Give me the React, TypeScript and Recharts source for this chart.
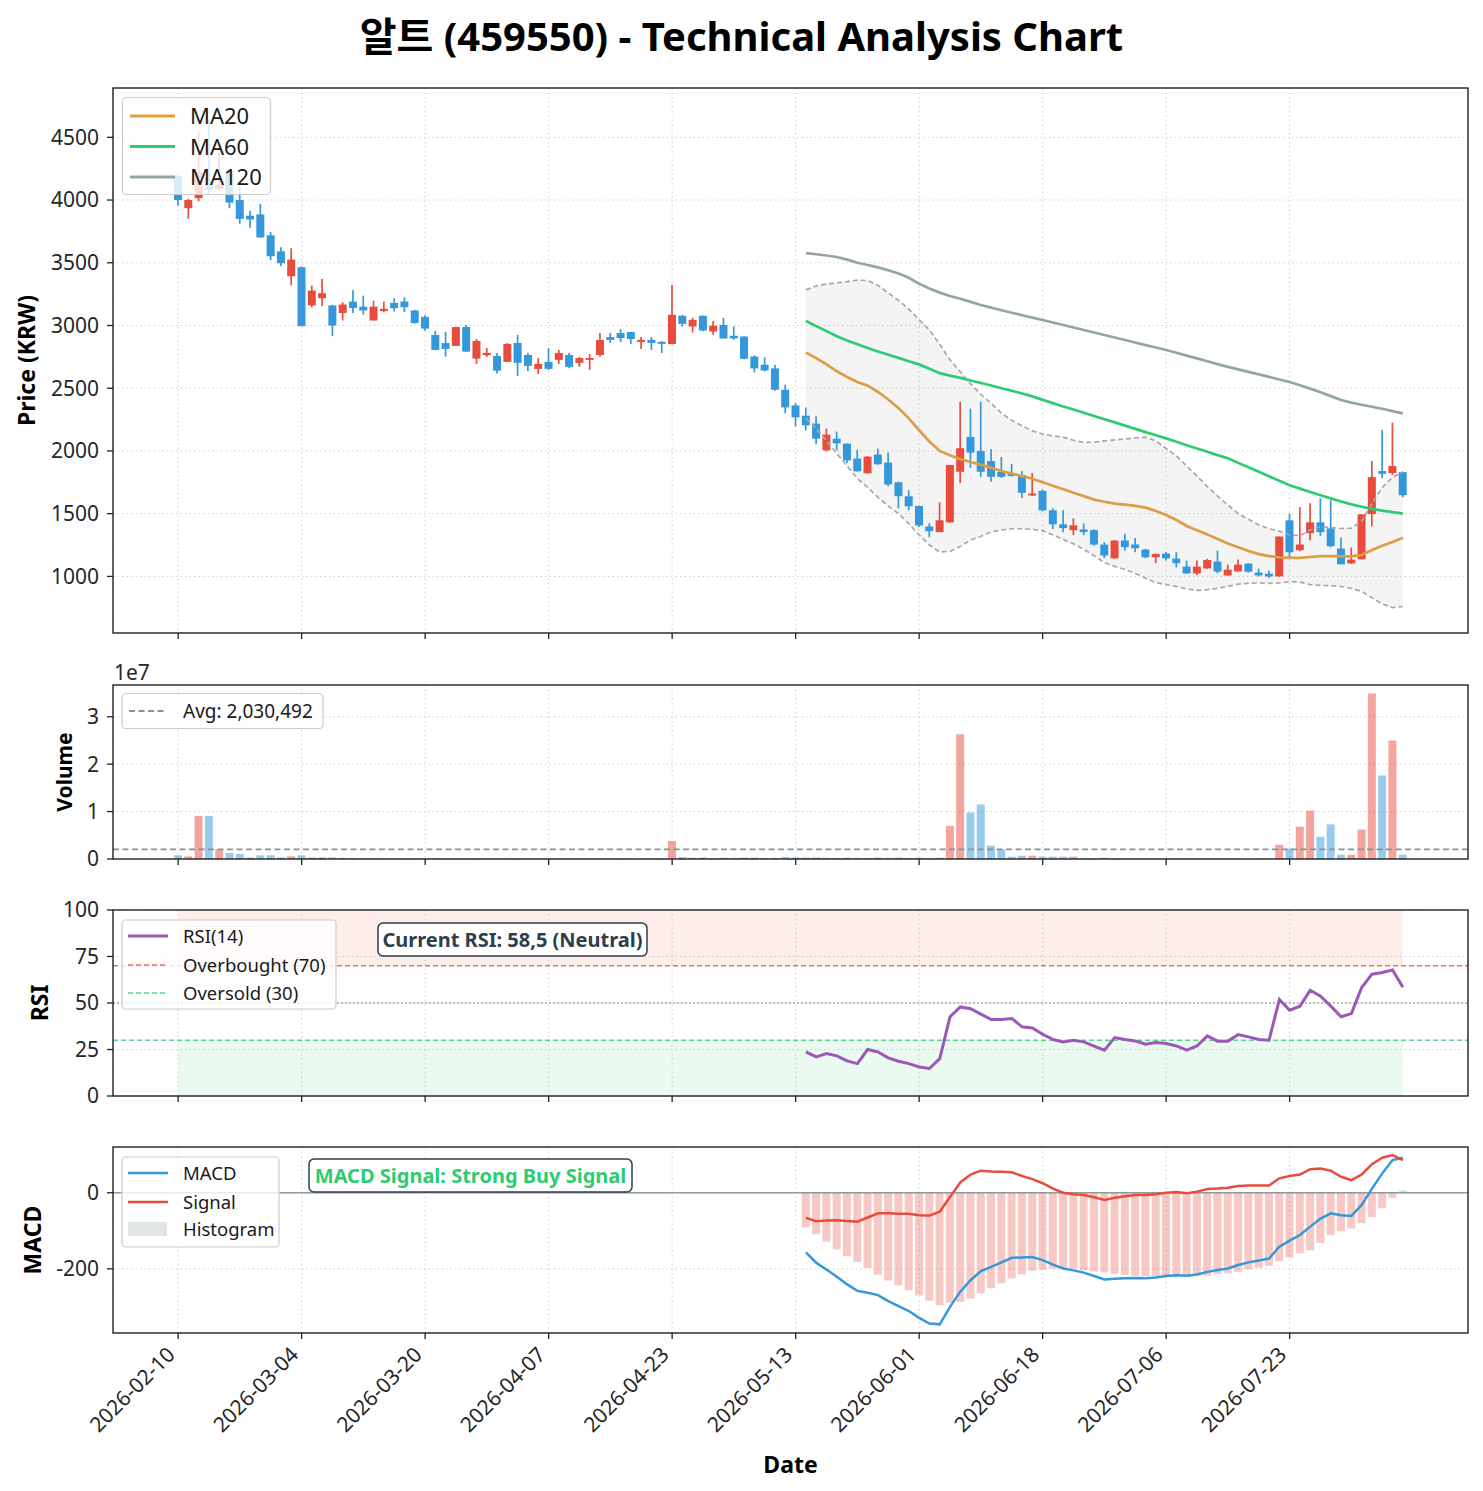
import React from 'react';
import {
  ComposedChart, Bar, Line, Area, XAxis, YAxis, CartesianGrid,
  ReferenceLine, ReferenceArea, Cell,
} from 'recharts';

// ---------------- data ----------------
const tickIdx = [0, 12, 24, 36, 48, 60, 72, 84, 96, 108];
const tickLabels = ['2026-02-10', '2026-03-04', '2026-03-20', '2026-04-07', '2026-04-23', '2026-05-13', '2026-06-01', '2026-06-18', '2026-07-06', '2026-07-23'];

const opens = [
  4190, 3935, 4015, 4150, 4090, 4230, 4000, 3875, 3885, 3719,
  3591, 3392, 3464, 3160, 3217, 3160, 3100, 3190, 3150, 3040,
  3115, 3180, 3191, 3120, 3068, 2924, 2860, 2837, 2988, 2736,
  2763, 2757, 2710, 2861, 2765, 2654, 2710, 2726, 2765, 2702,
  2726, 2765, 2908, 2940, 2948, 2869, 2885, 2869, 2852, 3077,
  2992, 3077, 2952, 3005, 2918, 2912, 2753, 2687, 2658, 2488,
  2363, 2281, 2218, 2005, 2098, 2058, 1939, 1822, 1971, 1907,
  1750, 1639, 1561, 1398, 1353, 1431, 1834, 2112, 2000, 1920,
  1834, 1821, 1808, 1645, 1682, 1527, 1415, 1369, 1374, 1369,
  1254, 1144, 1286, 1254, 1214, 1153, 1182, 1142, 1078, 1024,
  1064, 1118, 1008, 1040, 1102, 1030, 1022, 1000, 1447, 1209,
  1345, 1431, 1383, 1222, 1104, 1137, 1497, 1840, 1824, 1832,
];
const highs = [
  4200, 4010, 4540, 4640, 4380, 4235, 4110, 3915, 3968, 3745,
  3623, 3615, 3470, 3318, 3370, 3165, 3185, 3280, 3238, 3198,
  3190, 3217, 3225, 3125, 3081, 2956, 2948, 2990, 3004, 2893,
  2821, 2781, 2860, 2924, 2781, 2741, 2820, 2805, 2781, 2750,
  2773, 2940, 2940, 2972, 2950, 2908, 2908, 2877, 3324, 3085,
  3061, 3080, 3037, 3061, 2992, 2915, 2761, 2745, 2687, 2528,
  2382, 2347, 2276, 2178, 2154, 2060, 2010, 1958, 2018, 1987,
  1755, 1687, 1565, 1425, 1591, 1890, 2393, 2337, 2393, 2016,
  1952, 1896, 1840, 1824, 1690, 1543, 1527, 1463, 1422, 1375,
  1273, 1290, 1340, 1306, 1220, 1182, 1193, 1193, 1126, 1126,
  1140, 1206, 1094, 1134, 1105, 1062, 1046, 1318, 1500, 1551,
  1583, 1623, 1607, 1310, 1230, 1495, 1920, 2168, 2225, 1835,
];
const lows = [
  3955, 3850, 3990, 4050, 4075, 3935, 3810, 3780, 3700, 3520,
  3472, 3320, 2995, 3145, 3155, 2915, 3040, 3100, 3088, 3040,
  3105, 3111, 3106, 3015, 2959, 2803, 2752, 2837, 2790, 2694,
  2749, 2617, 2710, 2598, 2638, 2614, 2646, 2694, 2660, 2670,
  2646, 2750, 2861, 2868, 2853, 2813, 2805, 2780, 2850, 2992,
  2944, 2955, 2926, 2895, 2886, 2730, 2626, 2634, 2480, 2300,
  2196, 2164, 2053, 1995, 2005, 1905, 1835, 1820, 1890, 1718,
  1543, 1527, 1393, 1313, 1353, 1425, 1746, 1866, 1794, 1754,
  1786, 1794, 1626, 1640, 1520, 1377, 1353, 1329, 1329, 1245,
  1146, 1140, 1206, 1193, 1145, 1105, 1126, 1072, 1020, 1011,
  1060, 1024, 1005, 1038, 1030, 1000, 988, 998, 1153, 1201,
  1289, 1321, 1233, 1096, 1100, 1135, 1398, 1783, 1808, 1631,
];
const closes = [
  4000, 4000, 4220, 4080, 4125, 3980, 3850, 3845, 3702, 3552,
  3496, 3525, 2995, 3278, 3257, 3000, 3167, 3140, 3120, 3150,
  3133, 3138, 3146, 3020, 2975, 2805, 2813, 2988, 2792, 2877,
  2781, 2640, 2853, 2702, 2678, 2694, 2654, 2781, 2670, 2741,
  2741, 2885, 2885, 2900, 2892, 2885, 2861, 2853, 3085, 3013,
  3045, 2960, 2998, 2897, 2897, 2735, 2658, 2642, 2488, 2347,
  2268, 2204, 2098, 2130, 2061, 1925, 1838, 1955, 1894, 1733,
  1639, 1559, 1406, 1361, 1447, 1888, 2022, 1987, 1834, 1794,
  1794, 1802, 1666, 1661, 1527, 1415, 1385, 1407, 1353, 1254,
  1166, 1286, 1233, 1224, 1153, 1179, 1144, 1105, 1024, 1078,
  1131, 1038, 1054, 1094, 1038, 1008, 1000, 1318, 1193, 1254,
  1431, 1353, 1241, 1096, 1134, 1495, 1791, 1818, 1880, 1647,
];
const volumes = [
  800000, 570000, 9100000, 9100000, 2050000, 1270000, 1060000, 350000, 780000, 780000,
  350000, 570000, 780000, 350000, 350000, 350000, 250000, 200000, 150000, 180000,
  120000, 100000, 90000, 120000, 110000, 150000, 100000, 130000, 120000, 110000,
  80000, 120000, 100000, 140000, 90000, 80000, 100000, 90000, 70000, 60000,
  70000, 110000, 80000, 90000, 70000, 60000, 80000, 150000, 3800000, 400000,
  300000, 350000, 200000, 300000, 250000, 350000, 300000, 200000, 250000, 450000,
  350000, 300000, 350000, 250000, 200000, 300000, 250000, 200000, 300000, 250000,
  300000, 200000, 280000, 150000, 280000, 7000000, 26300000, 9800000, 11500000, 2800000,
  2000000, 500000, 700000, 700000, 500000, 500000, 500000, 500000, 100000, 150000,
  300000, 120000, 80000, 70000, 90000, 60000, 70000, 80000, 60000, 50000,
  60000, 80000, 50000, 60000, 50000, 40000, 50000, 3000000, 2200000, 6800000,
  10200000, 4700000, 7300000, 900000, 900000, 6200000, 34900000, 17600000, 25000000, 900000,
];
const volumeAvg = 2030492;

// indicators start at index 61
const START = 61;
const ma20 = [
  2784, 2740, 2690, 2635, 2590, 2550, 2520, 2470, 2410, 2340,
  2260, 2165, 2075, 2000, 1965, 1935, 1912, 1890, 1865, 1840,
  1820, 1800, 1778, 1750, 1722, 1695, 1667, 1640, 1612, 1595,
  1580, 1572, 1562, 1548, 1522, 1490, 1450, 1402, 1368, 1335,
  1298, 1262, 1232, 1203, 1178, 1162, 1152, 1148, 1148, 1155,
  1162, 1162, 1160, 1160, 1172, 1210, 1245, 1275, 1308,
];
const ma60 = [
  3036, 2995, 2955, 2915, 2880, 2850, 2820, 2793, 2767, 2742,
  2715, 2690, 2655, 2620, 2600, 2582, 2562, 2542, 2522, 2500,
  2480, 2458, 2435, 2407, 2381, 2355, 2330, 2304, 2279, 2253,
  2228, 2202, 2176, 2150, 2125, 2100, 2073, 2046, 2019, 1993,
  1967, 1941, 1905, 1870, 1834, 1798, 1762, 1727, 1700, 1673,
  1647, 1622, 1597, 1574, 1555, 1538, 1525, 1512, 1500,
];
const ma120 = [
  3577, 3568, 3558, 3546, 3525, 3500, 3482, 3463, 3440, 3415,
  3380, 3332, 3295, 3262, 3235, 3213, 3188, 3163, 3142, 3122,
  3102, 3082, 3063, 3044, 3024, 3004, 2984, 2964, 2944, 2924,
  2904, 2884, 2864, 2844, 2825, 2805, 2783, 2760, 2738, 2715,
  2692, 2670, 2650, 2630, 2610, 2590, 2570, 2550, 2524, 2497,
  2468, 2437, 2406, 2385, 2368, 2352, 2336, 2318, 2300,
];
const bbUpper = [
  3284, 3315, 3330, 3340, 3350, 3362, 3358, 3320, 3260, 3200,
  3130, 3045, 2964, 2850, 2726, 2630, 2535, 2450, 2380, 2300,
  2245, 2200, 2160, 2135, 2120, 2110, 2085, 2068, 2070, 2080,
  2088, 2095, 2105, 2110, 2080, 2020, 1960, 1880, 1800, 1715,
  1640, 1570, 1500, 1455, 1410, 1380, 1360, 1330, 1325, 1370,
  1395, 1390, 1382, 1385, 1440, 1580, 1710, 1790, 1834,
];
const bbLower = [
  2260, 2180, 2080, 1980, 1880, 1780, 1710, 1630, 1560, 1500,
  1420, 1330, 1250, 1195, 1200, 1240, 1290, 1320, 1355, 1370,
  1380, 1380, 1375, 1365, 1330, 1295, 1260, 1215, 1165, 1110,
  1080, 1055, 1025, 985, 950, 935, 920, 900, 888, 895,
  905, 920, 938, 945, 948, 945, 948, 958, 955, 935,
  928, 927, 920, 905, 880, 830, 780, 752, 760,
];
const rsi14 = [
  23.7, 21.0, 22.8, 21.6, 18.9, 17.4, 25.0, 23.7, 20.5, 18.7,
  17.4, 15.6, 14.8, 20.1, 42.6, 47.9, 46.9, 44.0, 41.1, 41.1,
  41.7, 37.2, 36.6, 33.2, 30.4, 29.1, 30.0, 29.1, 26.8, 24.6,
  31.4, 30.4, 29.6, 27.8, 28.7, 28.2, 26.9, 24.6, 26.9, 32.3,
  29.5, 29.5, 33.0, 31.8, 30.4, 30.0, 51.9, 46.1, 48.3, 56.9,
  53.7, 48.3, 42.6, 44.3, 58.3, 65.5, 66.4, 67.7, 58.5,
];
const macdLine = [
  -157, -184, -202, -221, -241, -258, -263, -269, -285, -298,
  -311, -329, -344, -346, -300, -260, -230, -206, -195, -183,
  -171, -170, -169, -177, -189, -199, -204, -210, -219, -228,
  -226, -225, -224, -225, -223, -219, -217, -218, -215, -208,
  -203, -199, -190, -183, -178, -173, -142, -126, -111, -89,
  -68, -54, -59, -61, -32, 11, 51, 86, 92,
];
const signalLine = [
  -66, -75, -73, -72, -74, -76, -65, -54, -54, -55,
  -55, -59, -60, -50, -11, 27, 48, 58, 56, 55,
  54, 44, 36, 25, 11, 0, -4, -6, -12, -19,
  -13, -9, -6, -6, -4, 0, 2, -1, 3, 10,
  11, 13, 18, 19, 19, 19, 38, 44, 48, 62,
  64, 58, 42, 33, 48, 75, 92, 99, 86,
];
const histogram = [
  -91, -109, -129, -149, -167, -182, -198, -215, -231, -243,
  -256, -270, -284, -296, -289, -287, -278, -264, -251, -238,
  -225, -214, -205, -202, -200, -199, -200, -204, -207, -209,
  -213, -216, -218, -219, -219, -219, -219, -217, -218, -218,
  -214, -212, -208, -202, -197, -192, -180, -170, -159, -151,
  -132, -112, -101, -94, -80, -64, -41, -13, 6,
];

// ---------------- style ----------------
const FONT = "'Noto Sans', 'Noto Sans CJK KR', sans-serif";
const RED = '#e74c3c';
const BLUE = '#3498db';
const W = 1483;
const PLOT_L = 113;
const PLOT_R = 1468;
const YW = 60;
const MT = 20; // top margin of each chart
const MARGIN = { top: MT, right: W - PLOT_R, left: PLOT_L - YW, bottom: 0 };
const TICK = { fontSize: 21, fill: '#262626', fontFamily: FONT };
const PAD = 60; // category axis padding (px)
const N = opens.length;
const BAND = (PLOT_R - PLOT_L - 2 * PAD) / N;
const NUM_DOMAIN = [-(PAD + BAND / 2) / BAND, N - 1 + (PAD + BAND / 2) / BAND];

const pick = (arr: number[], i: number) => (i >= START ? arr[i - START] : null);

const rows = opens.map((o, i) => ({
  i,
  open: o,
  high: highs[i],
  low: lows[i],
  close: closes[i],
  range: [lows[i], highs[i]],
  up: closes[i] >= o,
  vol: volumes[i],
  ma20: pick(ma20, i),
  ma60: pick(ma60, i),
  ma120: pick(ma120, i),
  bbU: pick(bbUpper, i),
  bbL: pick(bbLower, i),
  bb: i >= START ? [bbLower[i - START], bbUpper[i - START]] : null,
  rsi: pick(rsi14, i),
  macd: pick(macdLine, i),
  signal: pick(signalLine, i),
  hist: pick(histogram, i),
}));

const Candle = (props: any) => {
  const { x, y, width, height, payload } = props;
  if (!payload || x == null || y == null) return <g />;
  const { open, close, high, low } = payload;
  const color = close >= open ? RED : BLUE;
  const h = Math.abs(height);
  const top0 = height >= 0 ? y : y + height;
  const span = high - low;
  const k = span > 0 ? h / span : 0;
  const bTop = top0 + (high - Math.max(open, close)) * k;
  const bBot = top0 + (high - Math.min(open, close)) * k;
  const cx = x + width / 2;
  const bw = 8;
  return (
    <g>
      <line x1={cx} x2={cx} y1={top0} y2={top0 + h} stroke={color} strokeWidth={1.7} />
      <rect x={cx - bw / 2} y={bTop} width={bw} height={Math.max(bBot - bTop, 1.2)} fill={color} />
    </g>
  );
};

const NoTick = () => <g />;

const DateTick = (props: any) => {
  const { x, y, payload } = props;
  const k = tickIdx.indexOf(payload.value);
  const label = k >= 0 ? tickLabels[k] : '';
  return (
    <g transform={`translate(${x - 2},${y + 15}) rotate(-45)`}>
      <text x={0} y={0} textAnchor="end" fontSize={21} fill="#262626" fontFamily={FONT}>{label}</text>
    </g>
  );
};

const xAxisProps = (h: number, tick: any) => ({
  dataKey: 'i',
  type: 'category' as const,
  scale: 'band' as const,
  ticks: tickIdx,
  interval: 0 as const,
  padding: { left: PAD, right: PAD },
  axisLine: false,
  tickLine: { stroke: '#222', strokeWidth: 1.3 },
  tickSize: 6,
  height: h,
  tick,
});

const yAxisCommon = {
  width: YW,
  axisLine: false,
  tickLine: { stroke: '#222', strokeWidth: 1.3 },
  tickSize: 6,
  tickMargin: 8,
  tick: TICK,
  interval: 0 as const,
  allowDataOverflow: true,
};

const grid = <CartesianGrid stroke="#cfcfcf" strokeDasharray="1.5 3" strokeWidth={1} />;

const Abs: React.FC<{ top: number; children: React.ReactNode }> = ({ top, children }) => (
  <div style={{ position: 'absolute', left: 0, top }}>{children}</div>
);

const LegendBox = ({ x, y, w, h }: { x: number; y: number; w: number; h: number }) => (
  <rect x={x} y={y} width={w} height={h} rx={4} fill="#fff" fillOpacity={0.8} stroke="#cccccc" strokeWidth={1.2} />
);

export default function App() {
  return (
    <div style={{ position: 'absolute', left: 0, top: 0, width: W, height: 1491, background: '#fff', fontFamily: FONT, overflow: 'hidden' }}>
      {/* Price panel: plot 88..633 */}
      <Abs top={88 - MT}>
        <ComposedChart width={W} height={MT + 545 + 16} data={rows} margin={MARGIN}>
          {grid}
          <XAxis {...xAxisProps(16, NoTick)} />
          <YAxis {...yAxisCommon} domain={[549, 4893]} ticks={[1000, 1500, 2000, 2500, 3000, 3500, 4000, 4500]} />
          <Area dataKey="bb" stroke="none" fill="#808080" fillOpacity={0.09} isAnimationActive={false} connectNulls={false} />
          <Bar dataKey="range" barSize={8} shape={Candle} isAnimationActive={false} />
          <Line dataKey="bbU" stroke="#a8a8a8" strokeWidth={1.7} strokeDasharray="5 3" dot={false} isAnimationActive={false} />
          <Line dataKey="bbL" stroke="#a8a8a8" strokeWidth={1.7} strokeDasharray="5 3" dot={false} isAnimationActive={false} />
          <Line dataKey="ma20" stroke="#dc9d45" strokeWidth={2.7} dot={false} isAnimationActive={false} />
          <Line dataKey="ma60" stroke="#2ecc71" strokeWidth={2.7} dot={false} isAnimationActive={false} />
          <Line dataKey="ma120" stroke="#95a5a6" strokeWidth={2.7} dot={false} isAnimationActive={false} />
        </ComposedChart>
      </Abs>

      {/* Volume panel: plot 685..859 */}
      <Abs top={685 - MT}>
        <ComposedChart width={W} height={MT + 174 + 16} data={rows} margin={MARGIN}>
          {grid}
          <XAxis {...xAxisProps(16, NoTick)} />
          <YAxis {...yAxisCommon} domain={[0, 36700000]} ticks={[0, 10000000, 20000000, 30000000]} tickFormatter={(v: number) => String(v / 10000000)} />
          <Bar dataKey="vol" barSize={8} isAnimationActive={false}>
            {rows.map((r) => (
              <Cell key={r.i} fill={r.up ? RED : BLUE} fillOpacity={0.5} />
            ))}
          </Bar>
          <ReferenceLine y={volumeAvg} stroke="#8a9096" strokeWidth={1.8} strokeDasharray="6 3.5" />
        </ComposedChart>
      </Abs>

      {/* RSI panel: plot 910..1096 */}
      <Abs top={910 - MT}>
        <ComposedChart width={W} height={MT + 186 + 16} data={rows} margin={MARGIN}>
          {grid}
          <XAxis {...xAxisProps(16, NoTick)} />
          <XAxis xAxisId="num" type="number" dataKey="i" domain={NUM_DOMAIN} hide allowDataOverflow />
          <YAxis {...yAxisCommon} domain={[0, 100]} ticks={[0, 25, 50, 75, 100]} />
          <ReferenceArea xAxisId="num" x1={0} x2={N - 1} y1={70} y2={100} fill={RED} fillOpacity={0.1} stroke="none" />
          <ReferenceArea xAxisId="num" x1={0} x2={N - 1} y1={0} y2={30} fill="#2ecc71" fillOpacity={0.1} stroke="none" />
          <ReferenceLine y={70} stroke={RED} strokeOpacity={0.8} strokeWidth={1.5} strokeDasharray="5 3" />
          <ReferenceLine y={30} stroke="#2ecc71" strokeOpacity={0.8} strokeWidth={1.5} strokeDasharray="5 3" />
          <ReferenceLine y={50} stroke="#aaaaaa" strokeWidth={1.3} strokeDasharray="2 2" />
          <Line dataKey="rsi" stroke="#9b59b6" strokeWidth={3} dot={false} isAnimationActive={false} />
        </ComposedChart>
      </Abs>

      {/* MACD panel: plot 1147..1333 */}
      <Abs top={1147 - MT}>
        <ComposedChart width={W} height={MT + 186 + 120} data={rows} margin={MARGIN}>
          {grid}
          <XAxis {...xAxisProps(120, DateTick)} />
          <YAxis {...yAxisCommon} domain={[-368.7, 120.3]} ticks={[-200, 0]} />
          <Bar dataKey="hist" barSize={8} isAnimationActive={false}>
            {rows.map((r) => (
              <Cell key={r.i} fill={(r.hist ?? 0) >= 0 ? '#2ecc71' : RED} fillOpacity={0.3} />
            ))}
          </Bar>
          <ReferenceLine y={0} stroke="#7f8c8d" strokeWidth={1.6} strokeOpacity={0.85} />
          <Line dataKey="macd" stroke={BLUE} strokeWidth={2.5} dot={false} isAnimationActive={false} />
          <Line dataKey="signal" stroke={RED} strokeWidth={2.5} dot={false} isAnimationActive={false} />
        </ComposedChart>
      </Abs>

      {/* frames, titles, legends, annotations */}
      <svg width={W} height={1491} style={{ position: 'absolute', left: 0, top: 0, pointerEvents: 'none' }} fontFamily={FONT}>
        <g fill="none" stroke="#222" strokeWidth={1.4}>
          <rect x={PLOT_L} y={88} width={PLOT_R - PLOT_L} height={545} />
          <rect x={PLOT_L} y={685} width={PLOT_R - PLOT_L} height={174} />
          <rect x={PLOT_L} y={910} width={PLOT_R - PLOT_L} height={186} />
          <rect x={PLOT_L} y={1147} width={PLOT_R - PLOT_L} height={186} />
        </g>

        <text x={741.5} y={51} textAnchor="middle" fontSize={40} fontWeight={700} fill="#000">
          알트 (459550) - Technical Analysis Chart
        </text>

        <g fontWeight={700} fill="#000" textAnchor="middle">
          <text transform="translate(27,360.5) rotate(-90)" dy="0.35em" fontSize={23}>Price (KRW)</text>
          <text transform="translate(65,772) rotate(-90)" dy="0.35em" fontSize={21}>Volume</text>
          <text transform="translate(40,1003) rotate(-90)" dy="0.35em" fontSize={23}>RSI</text>
          <text transform="translate(33,1240) rotate(-90)" dy="0.35em" fontSize={23}>MACD</text>
          <text x={790.5} y={1473} fontSize={23}>Date</text>
        </g>
        <text x={114} y={680} fontSize={21} fill="#262626">1e7</text>

        {/* price legend */}
        <LegendBox x={122.5} y={97.5} w={148} h={97} />
        <line x1={130} x2={175} y1={116} y2={116} stroke="#e39d3d" strokeWidth={2.8} />
        <line x1={130} x2={175} y1={146.5} y2={146.5} stroke="#2ecc71" strokeWidth={2.8} />
        <line x1={130} x2={175} y1={177} y2={177} stroke="#95a5a6" strokeWidth={2.8} />
        <g fontSize={22} fill="#1a1a1a">
          <text x={190} y={124}>MA20</text>
          <text x={190} y={154.5}>MA60</text>
          <text x={190} y={185}>MA120</text>
        </g>

        {/* volume legend */}
        <LegendBox x={122} y={693.5} w={201} h={35} />
        <line x1={129} x2={167} y1={711} y2={711} stroke="#8a9096" strokeWidth={1.8} strokeDasharray="6 3.5" />
        <text x={183} y={718} fontSize={19} fill="#1a1a1a">Avg: 2,030,492</text>

        {/* RSI legend */}
        <LegendBox x={122} y={920} w={214} h={89} />
        <line x1={128} x2={168} y1={936} y2={936} stroke="#9b59b6" strokeWidth={3} />
        <line x1={128} x2={168} y1={965} y2={965} stroke={RED} strokeOpacity={0.8} strokeWidth={1.5} strokeDasharray="5 3" />
        <line x1={128} x2={168} y1={993} y2={993} stroke="#2ecc71" strokeOpacity={0.8} strokeWidth={1.5} strokeDasharray="5 3" />
        <g fontSize={18.5} fill="#1a1a1a">
          <text x={183} y={942.5}>RSI(14)</text>
          <text x={183} y={971.5}>Overbought (70)</text>
          <text x={183} y={999.5}>Oversold (30)</text>
        </g>

        {/* MACD legend */}
        <LegendBox x={122} y={1157} w={157} h={90} />
        <line x1={128} x2={168} y1={1173} y2={1173} stroke={BLUE} strokeWidth={2.5} />
        <line x1={128} x2={168} y1={1202} y2={1202} stroke={RED} strokeWidth={2.5} />
        <rect x={128} y={1222} width={39} height={14} fill="#95a5a6" fillOpacity={0.3} />
        <g fontSize={18.5} fill="#1a1a1a">
          <text x={183} y={1179.5}>MACD</text>
          <text x={183} y={1208.5}>Signal</text>
          <text x={183} y={1236}>Histogram</text>
        </g>

        {/* annotations */}
        <rect x={378} y={923} width={269} height={33} rx={5} fill="#fff" fillOpacity={0.9} stroke="#2c3e50" strokeWidth={1.5} />
        <text x={512.5} y={946.5} textAnchor="middle" fontSize={20} fontWeight={700} fill="#2c3e50">Current RSI: 58,5 (Neutral)</text>
        <rect x={309} y={1159} width={323} height={33} rx={5} fill="#fff" fillOpacity={0.9} stroke="#2c3e50" strokeWidth={1.5} />
        <text x={470.5} y={1182.5} textAnchor="middle" fontSize={20} fontWeight={700} fill="#2ecc71">MACD Signal: Strong Buy Signal</text>
      </svg>
    </div>
  );
}
